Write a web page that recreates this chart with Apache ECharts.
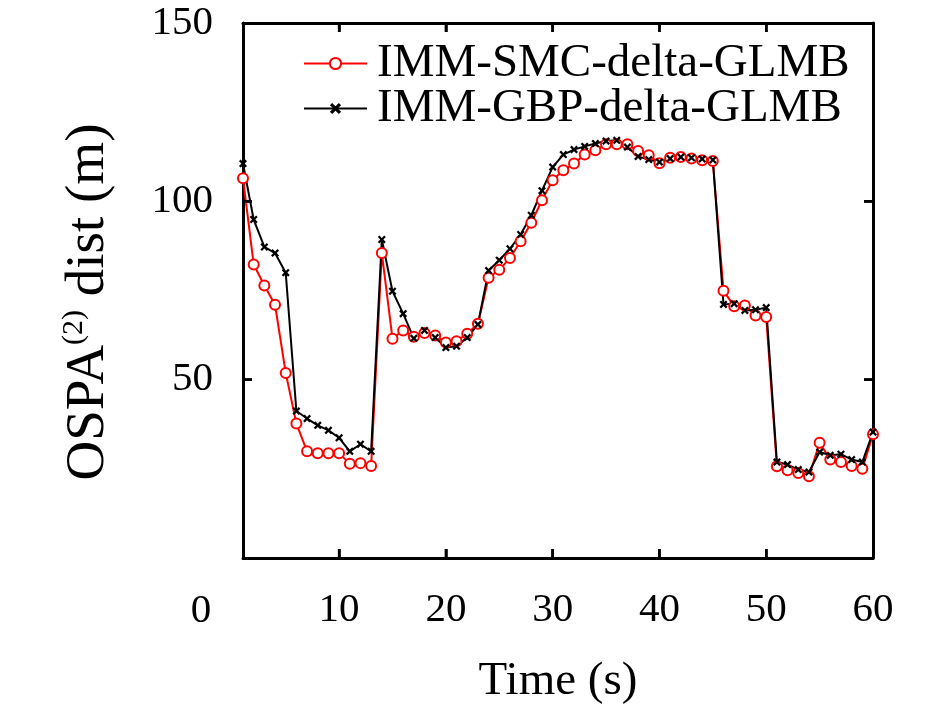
<!DOCTYPE html>
<html>
<head>
<meta charset="utf-8">
<title>OSPA</title>
<script src="https://cdn.jsdelivr.net/npm/echarts@6/dist/echarts.min.js"></script>
<style>
    html, body { margin: 0; padding: 0; background: #fff; }
    #main { width: 945px; height: 706px; }
</style>
</head>
<body>
<div id="main"></div>
<script>
//时间步 (s)
var times = [1, 2, 3, 4, 5, 6, 7, 8, 9, 10,
    11, 12, 13, 14, 15, 16, 17, 18, 19, 20,
    21, 22, 23, 24, 25, 26, 27, 28, 29, 30,
    31, 32, 33, 34, 35, 36, 37, 38, 39, 40,
    41, 42, 43, 44, 45, 46, 47, 48, 49, 50,
    51, 52, 53, 54, 55, 56, 57, 58, 59, 60];

//IMM-SMC-delta-GLMB (红色, 圆圈)
var smcValues = [106.5, 82.3, 76.4, 71.0, 51.9, 37.7, 29.9, 29.4, 29.4, 29.4,
    26.4, 26.6, 25.8, 85.5, 61.5, 63.8, 62.0, 63.1, 62.4, 60.4,
    60.8, 62.9, 65.7, 78.6, 80.8, 84.1, 88.8, 94.0, 100.3, 105.9,
    108.7, 110.6, 113.1, 114.3, 116.0, 116.0, 116.0, 114.1, 112.9, 110.7,
    112.2, 112.4, 112.0, 111.5, 111.3, 74.9, 70.6, 70.8, 68.0, 67.6,
    25.7, 24.6, 23.8, 22.9, 32.3, 27.6, 26.9, 25.8, 25.0, 34.7];

//IMM-GBP-delta-GLMB (黑色, 叉号)
var gbpValues = [110.6, 94.9, 87.2, 85.5, 80.0, 41.2, 39.1, 37.2, 35.8, 33.7,
    29.9, 31.9, 29.9, 89.3, 74.8, 68.5, 61.6, 63.8, 61.8, 59.0,
    59.4, 61.8, 65.5, 80.6, 83.5, 86.7, 90.7, 96.1, 103.0, 109.6,
    113.1, 114.5, 115.4, 116.2, 116.9, 117.1, 115.2, 112.6, 111.7, 111.0,
    112.0, 112.4, 112.2, 111.9, 111.6, 71.1, 71.3, 69.4, 69.6, 70.2,
    26.9, 26.2, 24.8, 24.1, 29.7, 28.8, 29.1, 27.6, 26.9, 35.3];

//刻度
var xTicks = [10, 20, 30, 40, 50];
var yTicks = [0, 50, 100, 150];

var seriesNames = ['IMM-SMC-delta-GLMB', 'IMM-GBP-delta-GLMB'];

var font = '"Liberation Serif", "DejaVu Serif", serif';
var crossIcon = 'path://M0,2L2,0L5,3L8,0L10,2L7,5L10,8L8,10L5,7L2,10L0,8L3,5Z';

var toPairs = function (xs, ys) {
    var out = [];
    xs.forEach(function (x, i) {
        out.push([x, ys[i]]);
    });
    return out;
};

//四条边框轴共用的样式
var frameAxis = function (extra) {
    var axis = {
        axisLine: { show: true, onZero: false, lineStyle: { color: '#000', width: 3 } },
        axisTick: { show: true, inside: true, length: 9, lineStyle: { color: '#000', width: 2.5 } },
        splitLine: { show: false }
    };
    return Object.assign(axis, extra);
};

var drawChart = function () {
    var myCharts = echarts.init(document.getElementById('main'));

    var xMin = times[0], xMax = times[times.length - 1];
    var yMin = yTicks[0], yMax = yTicks[yTicks.length - 1];

    var option = {
        animation: false,
        backgroundColor: '#fff',
        grid: { left: 243, right: 72, top: 23, bottom: 148 },
        legend: {
            orient: 'vertical',
            left: 303,
            top: 40,
            padding: 0,
            itemWidth: 63,
            itemHeight: 14,
            itemGap: -2,
            data: seriesNames,
            textStyle: {
                fontFamily: font,
                fontSize: 47,
                lineHeight: 40,
                color: '#000',
                padding: [0, 0, 0, 5]
            }
        },
        xAxis: [
            frameAxis({
                type: 'value',
                min: xMin,
                max: xMax,
                axisLabel: {
                    margin: 32,
                    fontFamily: font,
                    fontSize: 41,
                    color: '#000',
                    formatter: function (v) { return v === xMin ? '' : v; }
                }
            }),
            frameAxis({
                type: 'value',
                position: 'top',
                min: xMin,
                max: xMax,
                axisLabel: { show: false }
            })
        ],
        yAxis: [
            frameAxis({
                type: 'value',
                min: yMin,
                max: yMax,
                interval: yTicks[1] - yTicks[0],
                axisLabel: {
                    margin: 30,
                    fontFamily: font,
                    fontSize: 41,
                    color: '#000',
                    formatter: function (v) { return v === yMin ? '' : v; }
                }
            }),
            frameAxis({
                type: 'value',
                position: 'right',
                min: yMin,
                max: yMax,
                interval: yTicks[1] - yTicks[0],
                axisLabel: { show: false }
            })
        ],
        //坐标轴标题和左下角的 0
        graphic: [
            {
                id: 'ytitle',
                type: 'text',
                x: 89,
                y: 302,
                rotation: Math.PI / 2,
                style: {
                    text: '{n|OSPA}{s|(2)}{n| dist (m)}',
                    align: 'center',
                    verticalAlign: 'middle',
                    fill: '#000',
                    rich: {
                        n: { fontFamily: font, fontSize: 55, lineHeight: 60, fill: '#000' },
                        s: { fontFamily: font, fontSize: 30, lineHeight: 60, verticalAlign: 'top', fill: '#000' }
                    }
                }
            },
            {
                id: 'xtitle',
                type: 'text',
                x: 558,
                y: 682,
                style: {
                    text: 'Time (s)',
                    align: 'center',
                    verticalAlign: 'middle',
                    fontFamily: font,
                    fontSize: 47,
                    fill: '#000'
                }
            },
            {
                id: 'zero',
                type: 'text',
                x: 201,
                y: 611,
                style: {
                    text: String(yMin),
                    align: 'center',
                    verticalAlign: 'middle',
                    fontFamily: font,
                    fontSize: 41,
                    fill: '#000'
                }
            }
        ],
        series: [
            {
                name: seriesNames[0],
                type: 'line',
                data: toPairs(times, smcValues),
                symbol: 'emptyCircle',
                symbolSize: 10,
                showAllSymbol: true,
                lineStyle: { color: '#f00', width: 2 },
                itemStyle: { color: '#f00', borderColor: '#f00', borderWidth: 2 }
            },
            {
                name: seriesNames[1],
                type: 'line',
                data: toPairs(times, gbpValues),
                symbol: crossIcon,
                symbolSize: 8,
                showAllSymbol: true,
                lineStyle: { color: '#000', width: 2 },
                itemStyle: { color: '#000' }
            }
        ]
    };

    myCharts.setOption(option);

    //内向刻度线: 用坐标轴换算出像素位置再画
    var tickLen = 9;
    var ticks = [];
    var toPx = function (pt) {
        return myCharts.convertToPixel({ xAxisIndex: 0, yAxisIndex: 0 }, pt);
    };
    var tickLine = function (id, x1, y1, x2, y2) {
        ticks.push({
            id: id,
            type: 'line',
            z: 10,
            shape: { x1: x1, y1: y1, x2: x2, y2: y2 },
            style: { stroke: '#000', lineWidth: 2.5 }
        });
    };
    xTicks.forEach(function (t) {
        var b = toPx([t, yMin]), u = toPx([t, yMax]);
        tickLine('xb' + t, b[0], b[1], b[0], b[1] - tickLen);
        tickLine('xt' + t, u[0], u[1], u[0], u[1] + tickLen);
    });
    yTicks.slice(1, -1).forEach(function (v) {
        var l = toPx([xMin, v]), r = toPx([xMax, v]);
        tickLine('yl' + v, l[0], l[1], l[0] + tickLen, l[1]);
        tickLine('yr' + v, r[0], r[1], r[0] - tickLen, r[1]);
    });
    myCharts.setOption({ graphic: ticks });
};

drawChart();
</script>
</body>
</html>
